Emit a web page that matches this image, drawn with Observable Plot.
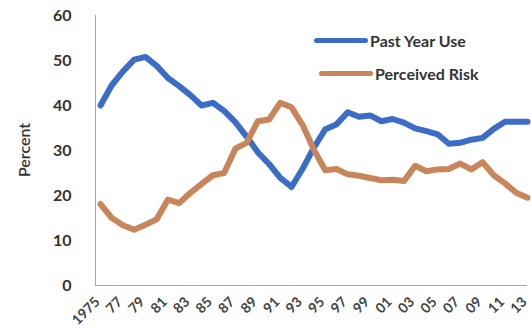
<!DOCTYPE html>
<html>
<head>
<meta charset="utf-8">
<script src="https://cdn.jsdelivr.net/npm/d3@7"></script>
<script src="https://cdn.jsdelivr.net/npm/@observablehq/plot@0.6"></script>
<style>
  html, body { margin: 0; padding: 0; background: #fff; }
  #wrap { position: relative; width: 531px; height: 332px; font-family: Lato, "Open Sans", sans-serif; }
  .legend { position: absolute; display: flex; align-items: center; font-weight: 700; font-size: 16px; color: #333; }
  .legend .sw { width: 54px; height: 5px; border-radius: 3px; margin-right: 2px; }
</style>
</head>
<body>
<div id="wrap"></div>
<script>
const years = [1975,1976,1977,1978,1979,1980,1981,1982,1983,1984,1985,1986,1987,1988,1989,1990,1991,1992,1993,1994,1995,1996,1997,1998,1999,2000,2001,2002,2003,2004,2005,2006,2007,2008,2009,2010,2011,2012,2013];
const pastYearUse = [40.0,44.5,47.6,50.2,50.8,48.8,46.1,44.3,42.3,40.0,40.6,38.8,36.3,33.1,29.6,27.0,23.9,21.9,26.0,30.7,34.7,35.8,38.5,37.5,37.8,36.5,37.0,36.2,34.9,34.3,33.6,31.5,31.7,32.4,32.8,34.8,36.4,36.4,36.4];
const perceivedRisk = [18.1,15.0,13.4,12.4,13.5,14.7,19.1,18.3,20.6,22.6,24.5,25.0,30.4,31.7,36.5,36.9,40.6,39.6,35.6,30.1,25.6,25.9,24.7,24.4,23.9,23.4,23.5,23.2,26.6,25.4,25.8,25.9,27.1,25.8,27.4,24.5,22.7,20.6,19.5];
const seriesNames = ["Past Year Use", "Perceived Risk"];
const seriesColors = ["#3b6cc6", "#c9855a"];
const tickYears = [1975,1977,1979,1981,1983,1985,1987,1989,1991,1993,1995,1997,1999,2001,2003,2005,2007,2009,2011,2013];
const tickLabels = ["1975","77","79","81","83","85","87","89","91","93","95","97","99","01","03","05","07","09","11","13"];
const yTicks = [0,10,20,30,40,50,60];

const rows = [];
years.forEach((yr, i) => {
  rows.push({year: yr, value: pastYearUse[i], series: seriesNames[0]});
  rows.push({year: yr, value: perceivedRisk[i], series: seriesNames[1]});
});

const chart = Plot.plot({
  width: 531,
  height: 332,
  marginLeft: 95,
  marginRight: 4,
  marginTop: 15,
  marginBottom: 47,
  style: {fontFamily: "Lato, 'Open Sans', sans-serif", background: "#fff"},
  x: {domain: [1975, 2013], insetLeft: 5},
  y: {domain: [0, 60]},
  color: {domain: seriesNames, range: seriesColors},
  marks: [
    Plot.frame({anchor: "left", stroke: "#a8a8a8", strokeDasharray: "2,1"}),
    Plot.frame({anchor: "bottom", stroke: "#a8a8a8", strokeDasharray: "2,1"}),
    Plot.axisY({ticks: yTicks, tickSize: 0, tickPadding: 24, label: null,
      fontSize: 16, fontWeight: 700, fill: "#333"}),
    Plot.axisX({ticks: tickYears, tickFormat: (d) => tickLabels[tickYears.indexOf(d)],
      tickSize: 0, tickPadding: 14, tickRotate: -45, label: null, dx: -3,
      fontSize: 14, fontWeight: 700, fill: "#444"}),
    Plot.line(rows, {x: "year", y: "value", z: "series", stroke: "series",
      strokeWidth: 6, strokeLinejoin: "round", strokeLinecap: "round"})
  ]
});

const wrap = document.getElementById("wrap");
wrap.appendChild(chart);

// y axis title
const svgNS = "http://www.w3.org/2000/svg";
const t = document.createElementNS(svgNS, "text");
t.setAttribute("transform", "translate(30,150) rotate(-90)");
t.setAttribute("text-anchor", "middle");
t.setAttribute("font-size", "16");
t.setAttribute("font-weight", "600");
t.setAttribute("fill", "#333");
t.textContent = "Percent";
chart.appendChild(t);

// legend
const legendPos = [[314, 31], [319, 64]];
seriesNames.forEach((name, i) => {
  const d = document.createElement("div");
  d.className = "legend";
  d.style.left = legendPos[i][0] + "px";
  d.style.top = legendPos[i][1] + "px";
  const sw = document.createElement("span");
  sw.className = "sw";
  sw.style.background = seriesColors[i];
  d.appendChild(sw);
  d.appendChild(document.createTextNode(name));
  wrap.appendChild(d);
});
</script>
</body>
</html>
